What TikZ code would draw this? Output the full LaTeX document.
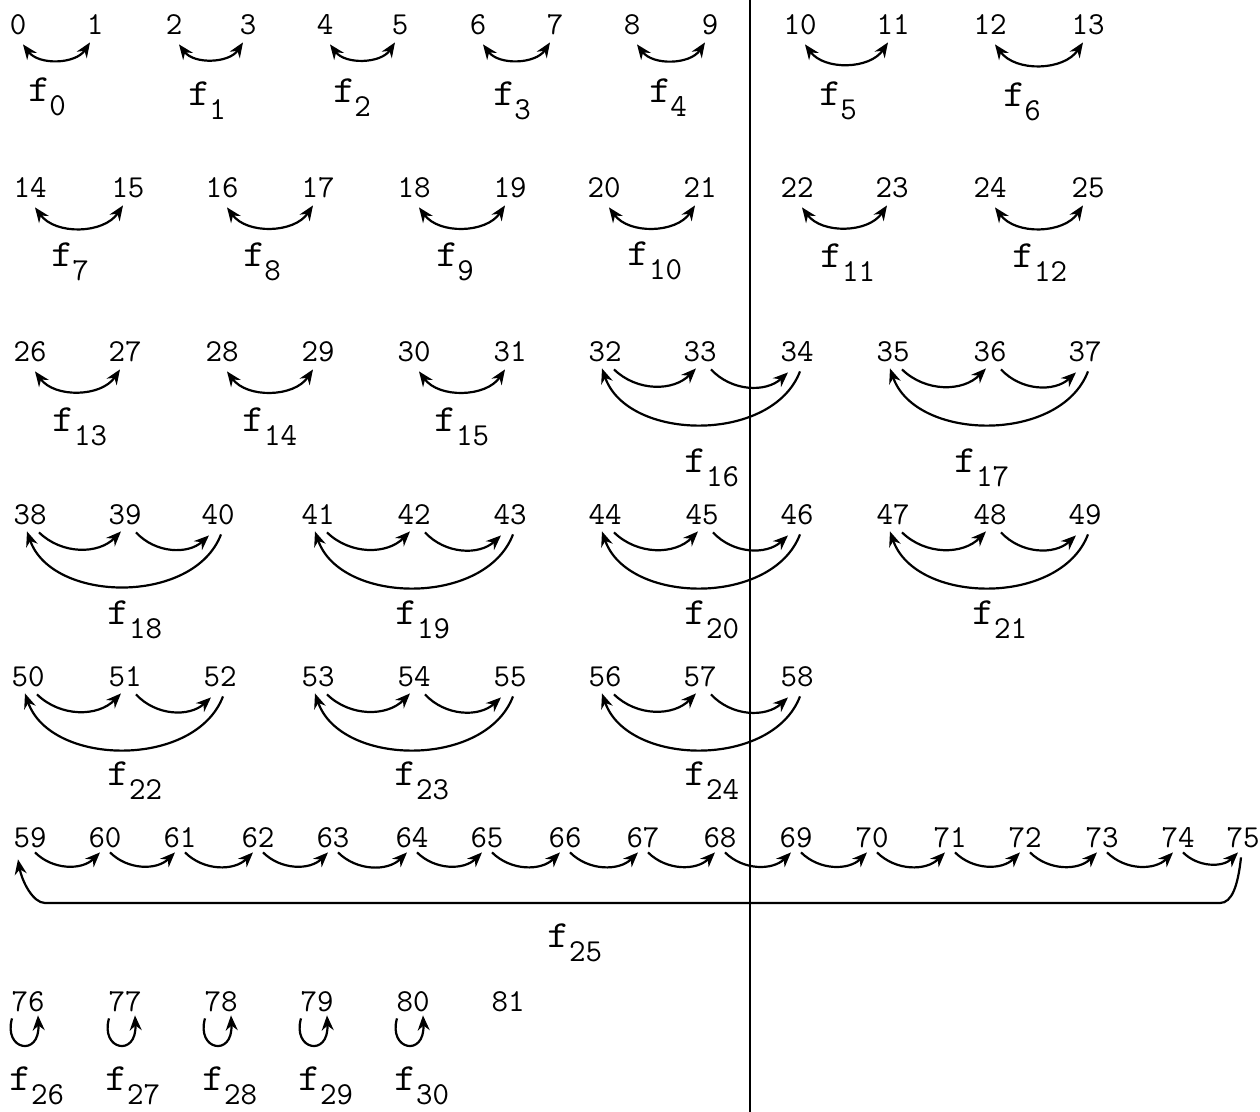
\documentclass[tikz,border=0pt]{standalone}
\usepackage{fontspec}
\usepackage{tikz}
\usetikzlibrary{arrows.meta, calc}

\newcommand{\fsub}[1]{\scalebox{1.35}[1.2]{f}\kern-0.5pt\raisebox{-7pt}{#1}}

\begin{document}
\begin{tikzpicture}[x=0.5pt, y=-0.5pt,
    num/.style={font=\ttfamily\fontsize{16}{18}\selectfont, inner xsep=1pt, inner ysep=3.5pt,
                text height=10pt, text depth=0pt},
    lab/.style={font=\ttfamily\fontsize{16}{18}\selectfont, inner sep=0pt},
    arc/.style={line width=1.1pt, -{Stealth[length=7.5pt, width=6pt]}},
    dblarc/.style={line width=1.1pt, {Stealth[length=7.5pt, width=6pt]}-{Stealth[length=7.5pt, width=6pt]}}]
  \useasboundingbox (0,0) rectangle (1260,1112);

  % divider
  \draw[line width=0.6pt] (750,0) -- (750,1112);

  % numbers
  \foreach \n/\x in {0/18, 1/95, 2/174, 3/248, 4/325, 5/400, 6/478, 7/555, 8/632, 9/710,
                     10/800, 11/893, 12/990, 13/1088}
    \node[num] (n\n) at (\x,25) {\n};
  \foreach \n/\x in {14/30, 15/128, 16/222, 17/318, 18/414, 19/510, 20/604, 21/700,
                     22/797, 23/892, 24/990, 25/1088}
    \node[num] (n\n) at (\x,188) {\n};
  \foreach \n/\x in {26/30, 27/125, 28/222, 29/318, 30/414, 31/510, 32/605, 33/700,
                     34/797, 35/893, 36/990, 37/1085}
    \node[num] (n\n) at (\x,352) {\n};
  \foreach \n/\x in {38/30, 39/125, 40/218, 41/318, 42/414, 43/510, 44/605, 45/702,
                     46/797, 47/893, 48/990, 49/1085}
    \node[num] (n\n) at (\x,515) {\n};
  \foreach \n/\x in {50/28, 51/125, 52/220, 53/318, 54/414, 55/510, 56/605, 57/700, 58/797}
    \node[num] (n\n) at (\x,677) {\n};
  \foreach \n/\x in {59/30, 60/105, 61/180, 62/258, 63/333, 64/412, 65/487, 66/565,
                     67/643, 68/720, 69/796, 70/872, 71/950, 72/1025, 73/1102, 74/1178, 75/1243}
    \node[num] (n\n) at (\x,838) {\n};
  \foreach \n/\x in {76/28, 77/125, 78/221, 79/317, 80/413, 81/508}
    \node[num] (n\n) at (\x,1001) {\n};

  % two-cycles
  \foreach \a/\b in {0/1, 2/3, 4/5, 6/7, 8/9, 10/11, 12/13, 14/15, 16/17, 18/19, 20/21,
                     22/23, 24/25, 26/27, 28/29, 30/31}
    \draw[dblarc] ($(n\a.south)+(5,2)$) to[bend right=55] ($(n\b.south)+(-5,0)$);

  % three-cycles
  \foreach \a/\b/\c in {32/33/34, 35/36/37, 38/39/40, 41/42/43, 44/45/46, 47/48/49,
                        50/51/52, 53/54/55, 56/57/58} {
    \draw[arc] ($(n\a.south)+(9,0)$) to[bend right=45] ($(n\b.south)+(-4,-1)$);
    \draw[arc] ($(n\b.south)+(11,0)$) to[bend right=45] ($(n\c.south)+(-9,3)$);
    \draw[arc] ($(n\c.south)+(3,2)$) to[bend left=70] ($(n\a.south)+(-3,-1)$);
  }

  % long cycle
  \foreach \a in {59,...,74} {
    \pgfmathtruncatemacro\b{\a+1}
    \draw[arc] ($(n\a.south)+(5,-3)$) to[bend right=45] ($(n\b.south)+(-5,-3)$);
  }
  \coordinate (r75) at (1220,903);
  \coordinate (r59) at (45,903);
  \draw[arc] ($(n75.south)+(-2,2)$) .. controls +(-3,28) and +(12,0) .. (r75) -- (r59)
    .. controls +(-12,0) and +(4,22) .. ($(n59.south)+(-12,4)$);

  % fixed points
  \foreach \n in {76,...,80}
    \draw[arc] ($(n\n.south)+(-16,0)$) .. controls +(-9,32) and +(2,42) .. ($(n\n.south)+(10,-3)$);

  % labels
  \foreach \k/\x/\y in {0/47/97, 1/207/101, 2/352/98, 3/512/101, 4/668/98, 5/838/101,
                        6/1022/102, 7/70/262, 8/262/262, 9/455/262, 10/655/261, 11/848/263,
                        12/1040/263, 13/80/427, 14/270/427, 15/462/427, 16/712/468,
                        17/982/468, 18/135/620, 19/423/620, 20/712/620, 21/1000/620,
                        22/135/781, 23/422/781, 24/712/781, 25/575/943, 26/37/1086,
                        27/133/1086, 28/230/1086, 29/326/1086, 30/422/1086}
    \node[lab] (f\k) at (\x,\y) {\fsub{\k}};
\end{tikzpicture}
\end{document}
